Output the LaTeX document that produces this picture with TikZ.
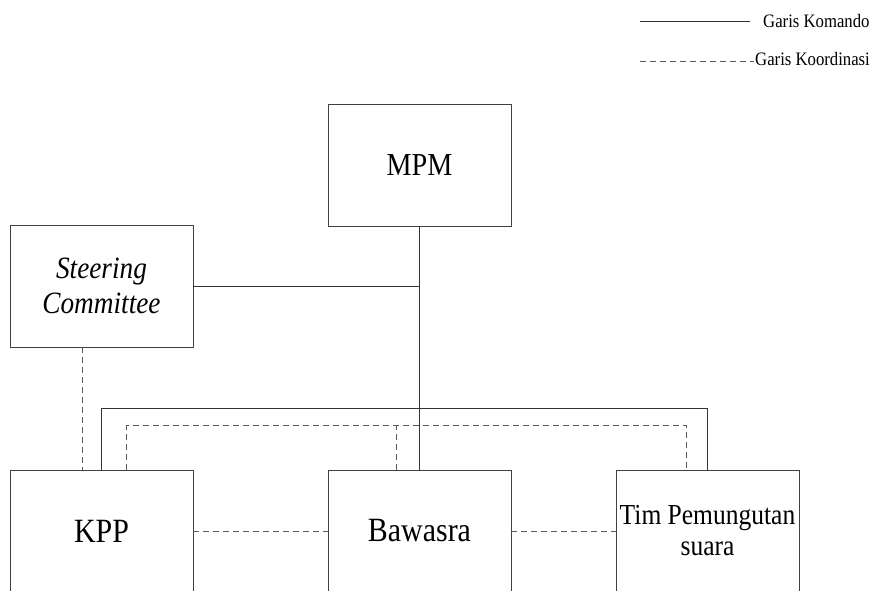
\documentclass[tikz,border=0pt]{standalone}
\usepackage{fontspec}
\setmainfont[FakeStretch=0.88]{Liberation Serif}
\usetikzlibrary{positioning}
\tikzset{
    unit/.style={
        draw=black!75,
        rectangle,
        fill=white,
        line width=0.8pt,
        minimum width=183pt,
        minimum height=122pt,
        inner sep=2pt,
        align=center,
        font=\fontsize{32}{36}\selectfont
    },
    komando/.style={draw=black!80, line width=0.8pt},
    koordinasi/.style={draw=black!65, line width=1pt, dash pattern=on 6pt off 4pt},
    legend/.style={inner sep=0pt, anchor=west, font=\fontsize{19}{22}\selectfont}
}

\begin{document}
\begin{tikzpicture}[x=1pt, y=-1pt]
    \useasboundingbox (0,0) rectangle (878,590);
    \clip (0,0) rectangle (878,590);

    % Units
    \node[unit] (mpm) at (419.5,165) {MPM};
    \node[unit, font=\fontsize{31}{35}\selectfont\itshape] (sc) at (101.5,286) {Steering\\Committee};
    \node[unit, font=\fontsize{34}{36}\selectfont] (kpp) at (101.5,531) {KPP};
    \node[unit, font=\fontsize{34}{36}\selectfont] (bawasra) at (419.5,531) {Bawasra};
    \node[unit, font=\fontsize{29}{31}\selectfont] (tim) at (707.5,531) {Tim Pemungutan\\suara};

    % Legend
    \coordinate (ka) at (640,21);
    \coordinate (kb) at (640,61);
    \node[legend] (garisk) at (763,21) {Garis Komando};
    \node[legend] (garisko) at (755,59) {Garis Koordinasi};
    \draw[komando] (ka) -- ([xshift=-13]garisk.west |- ka);
    \draw[koordinasi, line width=0.8pt] (kb) -- ([xshift=-1]garisko.west |- kb);

    % Garis komando
    \draw[komando] (mpm.south) -- (bawasra.north);
    \draw[komando] (sc.east) -- (sc.east -| mpm.south);
    \draw[komando] (kpp.north) -- ++(0,-61) -| (tim.north);

    % Garis koordinasi
    \draw[koordinasi] ([xshift=-19]sc.south) -- ([xshift=-19]sc.south |- kpp.north);
    \draw[koordinasi] ([xshift=25]kpp.north) -- ++(0,-44) -| ([xshift=-21]tim.north);
    \draw[koordinasi] ([xshift=-23]bawasra.north) -- ++(0,-44);
    \draw[koordinasi] (kpp.east) -- (bawasra.west);
    \draw[koordinasi] (bawasra.east) -- (tim.west);
\end{tikzpicture}
\end{document}
